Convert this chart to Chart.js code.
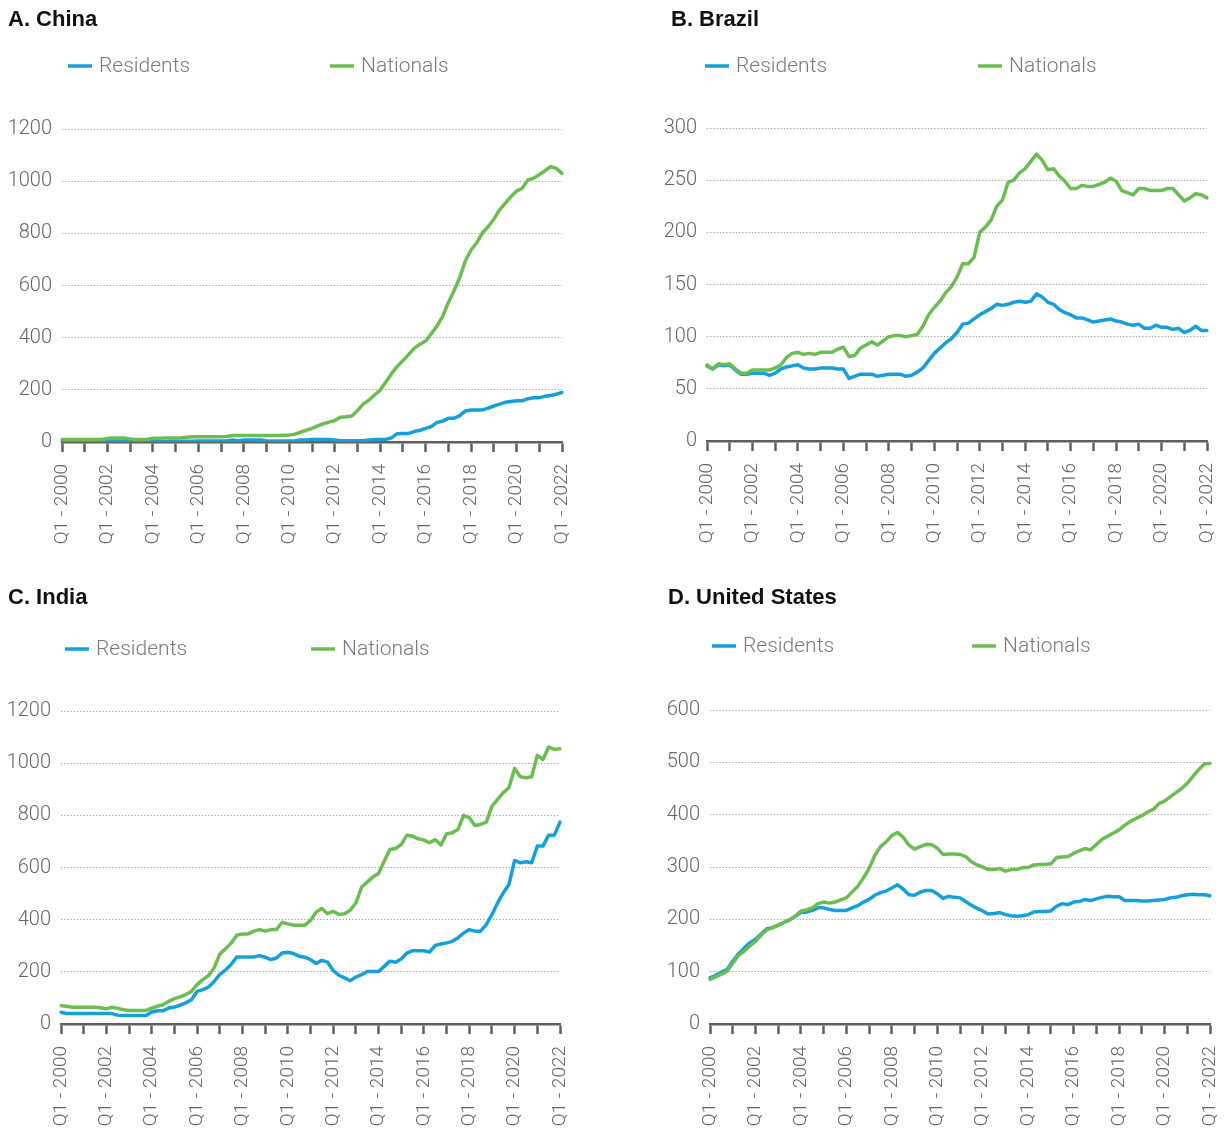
<!DOCTYPE html>
<html>
<head>
<meta charset="utf-8">
<title>Residents and Nationals, 2000–2022</title>
<script src="https://cdn.jsdelivr.net/npm/chart.js@4.4.1/dist/chart.umd.min.js"></script>
<style>
  html, body { margin: 0; padding: 0; background: #ffffff; }
  #wrap { position: relative; width: 1225px; height: 1128px; overflow: hidden; }
  #wrap canvas { position: absolute; }
</style>
</head>
<body>
<div id="wrap">
  <canvas id="cA" width="612" height="565" style="left:0px;top:0px"></canvas>
  <canvas id="cB" width="613" height="565" style="left:612px;top:0px"></canvas>
  <canvas id="cC" width="612" height="548" style="left:0px;top:580px"></canvas>
  <canvas id="cD" width="613" height="548" style="left:612px;top:580px"></canvas>
</div>
<script>
// Quarterly categories, Q1 2000 through Q1 2022
const years = [2000, 2001, 2002, 2003, 2004, 2005, 2006, 2007, 2008, 2009, 2010,
               2011, 2012, 2013, 2014, 2015, 2016, 2017, 2018, 2019, 2020, 2021, 2022];
const quarters = ['Q1', 'Q2', 'Q3', 'Q4'];
const quarterLabels = [];
years.forEach(y => quarters.forEach(q => {
  if (y < 2022 || q === 'Q1') quarterLabels.push(q + ' - ' + y);
}));

const seriesNames = ['Residents', 'Nationals'];

// A. China
const chinaResidents = [
  3, 3, 3, 3, 3, 3, 3, 3,
  4, 4, 4, 4, 4, 3, 3, 3,
  4, 1, 1, 2, 3, 3, 3, 3,
  4, 4, 4, 4, 4, 4, 8, 5,
  8, 8, 8, 8, 5, 4, 4, 4,
  4, 5, 8, 8, 10, 10, 10, 10,
  8, 5, 5, 5, 5, 5, 8, 10,
  10, 10, 16, 32, 33, 33, 40, 45,
  52, 59, 75, 80, 91, 91, 101, 119,
  123, 123, 123, 130, 138, 145, 152, 155,
  158, 158, 166, 170, 170, 175, 178, 183, 190
];
const chinaNationals = [
  10, 10, 10, 10, 10, 10, 10, 10,
  14, 15, 15, 15, 12, 10, 10, 11,
  14, 14, 15, 15, 15, 16, 18, 20,
  20, 20, 20, 20, 20, 21, 25, 25,
  25, 25, 25, 25, 25, 25, 25, 26,
  27, 30, 38, 45, 52, 62, 70, 76,
  82, 95, 97, 100, 120, 145, 160, 180,
  199, 230, 262, 290, 312, 335, 360, 375,
  387, 415, 445, 482, 535, 580, 630, 695,
  736, 764, 802, 825, 854, 890, 915, 940,
  962, 973, 1005, 1011, 1025, 1040, 1056, 1049, 1030
];

// B. Brazil
const brazilResidents = [
  72, 69, 73, 72, 73, 68, 64, 64,
  65, 65, 65, 63, 65, 69, 71, 72,
  73, 70, 69, 69, 70, 70, 70, 69,
  69, 60, 62, 64, 64, 64, 62, 63,
  64, 64, 64, 62, 63, 66, 70, 77,
  84, 89, 94, 98, 104, 112, 113, 117,
  121, 124, 127, 131, 130, 131, 133, 134,
  133, 134, 141, 138, 133, 131, 126, 123,
  121, 118, 118, 116, 114, 115, 116, 117,
  115, 114, 112, 111, 112, 108, 108, 111,
  109, 109, 107, 108, 104, 106, 110, 106, 106
];
const brazilNationals = [
  73, 69, 74, 73, 74, 69, 65, 65,
  68, 68, 68, 68, 70, 73, 80, 84,
  85, 83, 84, 83, 85, 85, 85, 88,
  90, 81, 82, 89, 92, 95, 92, 96,
  100, 101, 101, 100, 101, 102, 110, 121,
  128, 134, 142, 148, 157, 170, 170, 176,
  200, 205, 212, 225, 231, 248, 250, 257,
  261, 268, 275, 269, 260, 261, 254, 249,
  242, 242, 245, 244, 244, 246, 248, 252,
  249, 240, 238, 236, 242, 242, 240, 240,
  240, 242, 242, 236, 230, 233, 237, 236, 233
];

// C. India
const indiaResidents = [
  45, 40, 40, 40, 40, 40, 40, 40,
  40, 40, 34, 33, 33, 33, 33, 33,
  46, 51, 51, 61, 65, 72, 81, 93,
  125, 132, 141, 163, 190, 207, 228, 257,
  257, 257, 257, 262, 256, 247, 253, 272,
  275, 270, 260, 256, 247, 232, 244, 237,
  205, 187, 177, 166, 180, 189, 201, 201,
  201, 221, 241, 237, 249, 272, 281, 281,
  281, 276, 301, 307, 311, 317, 330, 349,
  362, 356, 356, 381, 420, 464, 503, 535,
  627, 618, 622, 618, 682, 682, 724, 724, 774
];
const indiaNationals = [
  70, 68, 64, 64, 64, 64, 64, 62,
  58, 64, 60, 55, 52, 52, 52, 52,
  61, 68, 74, 87, 97, 104, 113, 125,
  151, 170, 185, 215, 268, 288, 310, 340,
  345, 345, 356, 362, 356, 362, 362, 390,
  384, 379, 379, 379, 397, 429, 443, 423,
  432, 420, 423, 436, 464, 524, 544, 564,
  577, 624, 669, 673, 688, 724, 720, 710,
  705, 695, 707, 686, 729, 733, 746, 800,
  791, 761, 765, 774, 835, 861, 887, 906,
  980, 948, 944, 948, 1030, 1014, 1062, 1053, 1055
];

// D. United States
const usResidents = [
  88, 93, 99, 104, 120, 134, 145, 155,
  162, 172, 182, 184, 189, 194, 199, 206,
  213, 214, 217, 222, 222, 219, 217, 217,
  217, 222, 226, 233, 238, 246, 251, 254,
  260, 266, 258, 247, 246, 252, 255, 255,
  249, 240, 244, 242, 241, 234, 227, 221,
  216, 210, 211, 213, 209, 207, 206, 207,
  209, 214, 215, 215, 216, 225, 230, 228,
  233, 234, 238, 236, 239, 242, 244, 243,
  243, 236, 236, 236, 235, 235, 236, 237,
  238, 241, 242, 245, 247, 248, 247, 247, 245
];
const usNationals = [
  85, 90, 95, 101, 116, 131, 139, 149,
  158, 170, 180, 184, 189, 194, 199, 206,
  216, 218, 222, 230, 233, 231, 233, 237,
  241, 252, 263, 279, 297, 322, 339, 348,
  360, 366, 357, 342, 334, 339, 343, 343,
  336, 324, 325, 325, 324, 320, 310, 304,
  300, 295, 295, 297, 292, 295, 295, 299,
  299, 304, 305, 305, 306, 318, 319, 320,
  326, 331, 335, 333, 343, 353, 359, 365,
  371, 380, 387, 393, 398, 405, 410, 421,
  426, 434, 442, 450, 460, 473, 486, 497, 498
];

const BLUE = '#169fdb';
const GREEN = '#6cbd51';
const AXIS_GREY = '#5f5f5f';
const TEXT_GREY = '#666666';
const GRID_GREY = '#9a9a9a';
const LIGHT_FONT = 'Roboto, "Noto Sans", sans-serif';

// Panel title and legend row, drawn at fixed spots on each canvas
const panelHeader = {
  id: 'panelHeader',
  afterDraw(chart, args, opts) {
    const ctx = chart.ctx;
    ctx.save();
    ctx.font = 'bold 22px "Liberation Sans", Arial, sans-serif';
    ctx.fillStyle = '#111111';
    ctx.textAlign = 'left';
    ctx.textBaseline = 'alphabetic';
    ctx.fillText(opts.title, opts.titleX, opts.titleY);

    chart.data.datasets.forEach((ds, i) => {
      const x = opts.legendX[i];
      const y = opts.legendY;
      ctx.strokeStyle = ds.borderColor;
      ctx.lineWidth = 3.5;
      ctx.lineCap = 'butt';
      ctx.beginPath();
      ctx.moveTo(x, y);
      ctx.lineTo(x + 24, y);
      ctx.stroke();
      ctx.font = '300 21px ' + LIGHT_FONT;
      ctx.fillStyle = '#7a7a7a';
      ctx.textBaseline = 'middle';
      ctx.fillText(ds.label, x + 31, y + 1);
    });
    ctx.restore();
  }
};

const Y_AXIS_W = 60;

function makePanel(canvasId, cfg) {
  const canvas = document.getElementById(canvasId);
  const W = canvas.width, H = canvas.height;
  const a = cfg.area;
  const xAxisH = Math.min(120, H - a.b);
  new Chart(canvas, {
    type: 'line',
    data: {
      labels: quarterLabels,
      datasets: [
        { label: seriesNames[0], data: cfg.residents, borderColor: BLUE, order: 2 },
        { label: seriesNames[1], data: cfg.nationals, borderColor: GREEN, order: 1 }
      ]
    },
    options: {
      responsive: false,
      animation: false,
      devicePixelRatio: 1,
      events: [],
      layout: {
        padding: {
          left: a.l - Y_AXIS_W,
          top: a.t,
          right: W - a.r,
          bottom: H - a.b - xAxisH
        }
      },
      elements: {
        point: { radius: 0 },
        line: { borderWidth: 3.5, tension: 0, borderJoinStyle: 'round', borderCapStyle: 'round', fill: false }
      },
      plugins: {
        legend: { display: false },
        title: { display: false },
        tooltip: { enabled: false },
        panelHeader: {
          title: cfg.title,
          titleX: cfg.titleX,
          titleY: cfg.titleY,
          legendX: cfg.legendX,
          legendY: cfg.legendY
        }
      },
      scales: {
        x: {
          type: 'category',
          offset: false,
          afterFit(scale) {
            scale.height = xAxisH;
            scale.paddingLeft = 0;
            scale.paddingRight = 0;
          },
          border: { display: true, color: AXIS_GREY, width: 2.5 },
          grid: {
            drawOnChartArea: false,
            drawTicks: true,
            tickLength: 10,
            tickWidth: 2.5,
            tickColor: ctx => (ctx.index % 4 === 0 ? AXIS_GREY : 'rgba(0,0,0,0)')
          },
          ticks: {
            autoSkip: false,
            minRotation: 90,
            maxRotation: 90,
            padding: 12,
            color: TEXT_GREY,
            font: { family: LIGHT_FONT, size: 19, weight: '300' },
            callback(value, index) {
              return index % 8 === 0 ? this.getLabelForValue(value) : '';
            }
          }
        },
        y: {
          min: 0,
          max: cfg.yMax,
          afterFit(scale) { scale.width = Y_AXIS_W; },
          border: { display: false, dash: [1.2, 2] },
          grid: {
            drawTicks: false,
            lineWidth: 1,
            color: ctx => (ctx.tick && ctx.tick.value === 0 ? 'rgba(0,0,0,0)' : GRID_GREY)
          },
          ticks: {
            stepSize: cfg.yStep,
            padding: 10,
            color: TEXT_GREY,
            font: { family: LIGHT_FONT, size: 20, weight: '300' },
            callback: value => String(value)
          }
        }
      }
    },
    plugins: [panelHeader]
  });
}

makePanel('cA', {
  title: 'A. China', titleX: 8, titleY: 26, legendX: [68, 330], legendY: 66,
  area: { l: 62, t: 129, r: 562, b: 442 }, yMax: 1200, yStep: 200,
  residents: chinaResidents, nationals: chinaNationals
});
makePanel('cB', {
  title: 'B. Brazil', titleX: 59, titleY: 26, legendX: [93, 366], legendY: 66,
  area: { l: 95, t: 128, r: 595, b: 441 }, yMax: 300, yStep: 50,
  residents: brazilResidents, nationals: brazilNationals
});
makePanel('cC', {
  title: 'C. India', titleX: 8, titleY: 24, legendX: [65, 311], legendY: 69,
  area: { l: 61, t: 131, r: 560, b: 444 }, yMax: 1200, yStep: 200,
  residents: indiaResidents, nationals: indiaNationals
});
makePanel('cD', {
  title: 'D. United States', titleX: 56, titleY: 24, legendX: [100, 360], legendY: 66,
  area: { l: 98, t: 130, r: 598, b: 444 }, yMax: 600, yStep: 100,
  residents: usResidents, nationals: usNationals
});
</script>
</body>
</html>
